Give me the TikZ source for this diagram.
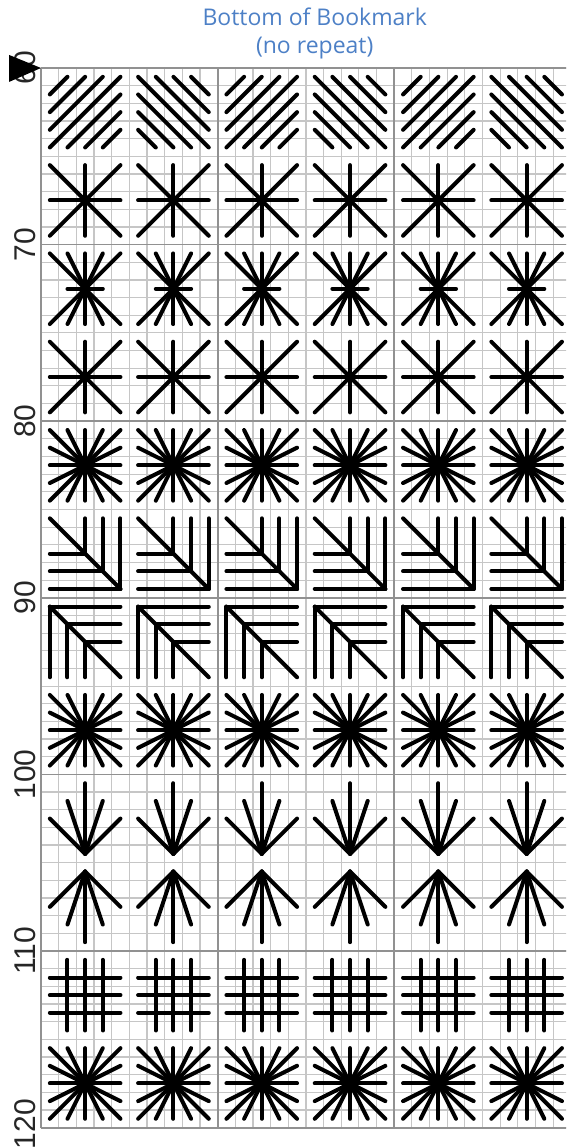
\documentclass[tikz,border=0pt]{standalone}
\usepackage{fontspec}
\setmainfont{Liberation Sans}
\newfontfamily\titlefont{Open Sans}
\definecolor{chartblue}{RGB}{77,128,198}
\definecolor{gridminor}{RGB}{198,198,198}
\definecolor{gridmajor}{RGB}{145,145,145}
% stitch motifs: x1/y1/x2/y2 in cells, inside a 5x5 block
\newcommand\diagfwd{0.5/1.5/1.5/0.5, 0.5/2.5/2.5/0.5, 0.5/3.5/3.5/0.5, 0.5/4.5/4.5/0.5,
  1.5/4.5/4.5/1.5, 2.5/4.5/4.5/2.5, 3.5/4.5/4.5/3.5}
\newcommand\diagback{3.5/0.5/4.5/1.5, 2.5/0.5/4.5/2.5, 1.5/0.5/4.5/3.5, 0.5/0.5/4.5/4.5,
  0.5/1.5/3.5/4.5, 0.5/2.5/2.5/4.5, 0.5/3.5/1.5/4.5}
\newcommand\stareight{0.5/0.5/4.5/4.5, 2.5/0.5/2.5/4.5, 4.5/0.5/0.5/4.5, 0.5/2.5/4.5/2.5}
\newcommand\starshort{0.5/0.5/4.5/4.5, 1.5/0.5/3.5/4.5, 2.5/0.5/2.5/4.5, 3.5/0.5/1.5/4.5,
  4.5/0.5/0.5/4.5, 1.5/2.5/3.5/2.5}
\newcommand\starsixteen{0.5/0.5/4.5/4.5, 1.5/0.5/3.5/4.5, 2.5/0.5/2.5/4.5, 3.5/0.5/1.5/4.5,
  4.5/0.5/0.5/4.5, 4.5/1.5/0.5/3.5, 4.5/2.5/0.5/2.5, 4.5/3.5/0.5/1.5}
\newcommand\cornerbr{0.5/0.5/4.5/4.5, 2.5/0.5/2.5/2.5, 3.5/0.5/3.5/3.5, 4.5/0.5/4.5/4.5,
  0.5/2.5/2.5/2.5, 0.5/3.5/3.5/3.5, 0.5/4.5/4.5/4.5}
\newcommand\cornertl{0.5/0.5/4.5/4.5, 0.5/0.5/4.5/0.5, 1.5/1.5/4.5/1.5, 2.5/2.5/4.5/2.5,
  0.5/0.5/0.5/4.5, 1.5/1.5/1.5/4.5, 2.5/2.5/2.5/4.5}
\newcommand\arrowdown{2.5/4.5/0.5/2.5, 2.5/4.5/1.5/1.5, 2.5/4.5/2.5/0.5, 2.5/4.5/3.5/1.5,
  2.5/4.5/4.5/2.5}
\newcommand\arrowup{2.5/0.5/0.5/2.5, 2.5/0.5/1.5/3.5, 2.5/0.5/2.5/4.5, 2.5/0.5/3.5/3.5,
  2.5/0.5/4.5/2.5}
\newcommand\crosshatch{0.5/1.5/4.5/1.5, 0.5/2.5/4.5/2.5, 0.5/3.5/4.5/3.5,
  1.5/0.5/1.5/4.5, 2.5/0.5/2.5/4.5, 3.5/0.5/3.5/4.5}
% one row of blocks: columns, top row, motif list
\newcommand\stitchrow[3]{%
  \foreach \col in {#1}{%
    \foreach \xa/\ya/\xb/\yb in #3{%
      \draw[stitch] (5*\col+\xa,#2+\ya) -- (5*\col+\xb,#2+\yb);}}}

\begin{document}
\begin{tikzpicture}[x=8.83pt,y=-8.83pt,
  stitch/.style={line width=2pt,line cap=round,black},
  minorline/.style={gridminor,line width=0.6pt},
  majorline/.style={gridmajor,line width=0.9pt},
  rowlabel/.style={rotate=90,inner sep=0pt,text=black!85,
    font=\fontsize{15}{15}\selectfont}
]
  \useasboundingbox (-2.3216,-3.8505) rectangle (29.728,61.155);
  \clip (-2.3216,-3.8505) rectangle (29.728,61.155);

  % Title
  \node[font=\titlefont\fontsize{11.5}{14}\selectfont,text=chartblue,align=center]
    (title) at (15.5,-1.98) {Bottom of Bookmark\\(no repeat)};

  % Grid
  \foreach \i in {0,...,30} \draw[minorline] (\i,0) -- (\i,60);
  \foreach \j in {0,...,60} \draw[minorline] (0,\j) -- (30,\j);
  \foreach \i in {0,10,20,30} \draw[majorline] (\i,0) -- (\i,60);
  \foreach \j in {0,10,...,60} \draw[majorline] (0,\j) -- (30,\j);

  % Row numbers
  \foreach \n in {60,70,...,110}
    \node[rowlabel] (lab\n) at (-0.9,\n-60) {\n};
  \node[rowlabel] (lab120) at (-0.9,59.8) {120};

  % Start marker
  \fill (-1.81,-0.74) -- (0,0) -- (-1.81,0.79) -- cycle;

  % Stitches
  \stitchrow{0,2,4}{0}{\diagfwd}
  \stitchrow{1,3,5}{0}{\diagback}
  \stitchrow{0,...,5}{5}{\stareight}
  \stitchrow{0,...,5}{10}{\starshort}
  \stitchrow{0,...,5}{15}{\stareight}
  \stitchrow{0,...,5}{20}{\starsixteen}
  \stitchrow{0,...,5}{25}{\cornerbr}
  \stitchrow{0,...,5}{30}{\cornertl}
  \stitchrow{0,...,5}{35}{\starsixteen}
  \stitchrow{0,...,5}{40}{\arrowdown}
  \stitchrow{0,...,5}{45}{\arrowup}
  \stitchrow{0,...,5}{50}{\crosshatch}
  \stitchrow{0,...,5}{55}{\starsixteen}
\end{tikzpicture}
\end{document}
